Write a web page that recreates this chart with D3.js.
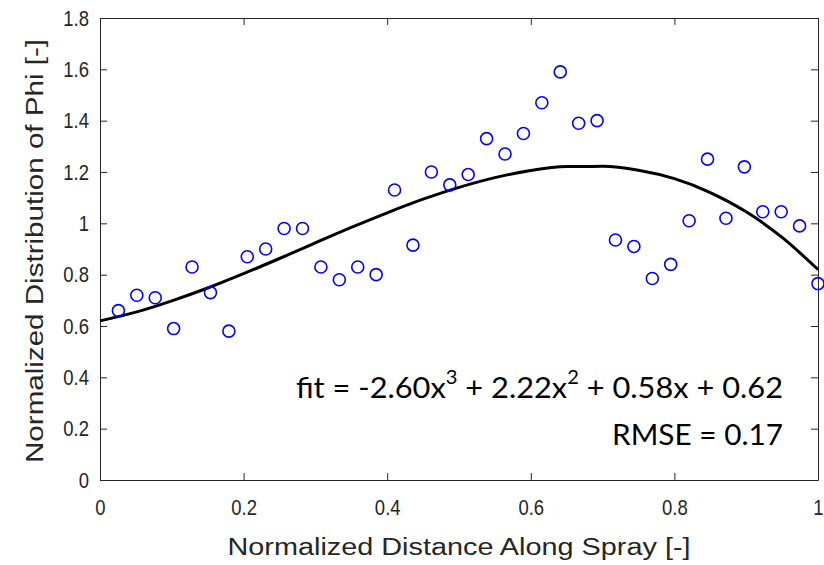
<!DOCTYPE html>
<html>
<head>
<meta charset="utf-8">
<script src="https://cdn.jsdelivr.net/npm/d3@7.9.0/dist/d3.min.js"></script>
<style>
  body { margin: 0; background: #fff; }
  svg { display: block; }
  .tick text { font-family: "Liberation Sans", Arial, sans-serif; }
</style>
</head>
<body>
<svg id="chart" width="824" height="565"></svg>
<script>
// measured points, x = k/39
const sampleX = d3.range(1, 40).map(k => k / 39);
const phi = [
  0.66, 0.72, 0.71, 0.59, 0.83, 0.73, 0.58, 0.87, 0.90, 0.98,
  0.98, 0.83, 0.78, 0.83, 0.80, 1.13, 0.915, 1.20, 1.15, 1.19,
  1.33, 1.27, 1.35, 1.47, 1.59, 1.39, 1.40, 0.935, 0.91, 0.785,
  0.84, 1.01, 1.25, 1.02, 1.22, 1.045, 1.045, 0.99, 0.765
];

// fit line
const fitX = [0, 0.05, 0.1, 0.15, 0.2, 0.25, 0.3, 0.35, 0.4, 0.45, 0.5,
              0.55, 0.6, 0.65, 0.7, 0.75, 0.8, 0.85, 0.9, 0.95, 1];
const fitY = [0.62, 0.654, 0.698, 0.748, 0.804, 0.863, 0.924, 0.984, 1.041, 1.094, 1.14,
              1.178, 1.206, 1.221, 1.222, 1.207, 1.174, 1.12, 1.045, 0.945, 0.82];

const xTicks = [0, 0.2, 0.4, 0.6, 0.8, 1];
const yTicks = [0, 0.2, 0.4, 0.6, 0.8, 1, 1.2, 1.4, 1.6, 1.8];

const svg = d3.select("#chart");
const margin = { left: 100, right: 6, top: 18, bottom: 85 };
const W = 824, H = 565;
const axisColor = "#262626";
const squeeze = 0.84; // MATLAB labels look narrow

const x = d3.scaleLinear().domain([0, 1]).range([margin.left, W - margin.right]);
const y = d3.scaleLinear().domain([0, 1.8]).range([H - margin.bottom, margin.top]);

const fmt = d => d === 0 || d === 1 ? String(d) : d3.format(".1f")(d);

// axes with inward ticks (box style)
function styleAxis(g) {
  g.select(".domain").attr("stroke", axisColor).attr("stroke-width", 1);
  g.selectAll(".tick line").attr("stroke", axisColor).attr("stroke-width", 1);
  g.selectAll(".tick text").attr("fill", axisColor).attr("font-size", 22);
}

svg.append("g")
  .attr("transform", `translate(0,${y(0)})`)
  .call(d3.axisBottom(x).tickValues(xTicks).tickFormat(fmt).tickSizeInner(-7).tickSizeOuter(0).tickPadding(19))
  .call(styleAxis)
  .selectAll(".tick text").attr("transform", `scale(${squeeze},1)`);

svg.append("g")
  .attr("transform", `translate(0,${y(1.8)})`)
  .call(d3.axisTop(x).tickValues(xTicks).tickFormat("").tickSizeInner(-7).tickSizeOuter(0))
  .call(styleAxis);

svg.append("g")
  .attr("transform", `translate(${x(0)},0)`)
  .call(d3.axisLeft(y).tickValues(yTicks).tickFormat(fmt).tickSizeInner(-7).tickSizeOuter(0).tickPadding(5))
  .call(styleAxis)
  .selectAll(".tick text")
  .attr("x", -11 / squeeze)
  .attr("transform", `scale(${squeeze},1)`);

svg.append("g")
  .attr("transform", `translate(${x(1)},0)`)
  .call(d3.axisRight(y).tickValues(yTicks).tickFormat("").tickSizeInner(-7).tickSizeOuter(0))
  .call(styleAxis);

// fit curve
svg.append("path")
  .datum(fitX.map((v, i) => [v, fitY[i]]))
  .attr("fill", "none")
  .attr("stroke", "#000")
  .attr("stroke-width", 3)
  .attr("d", d3.line().x(d => x(d[0])).y(d => y(d[1])).curve(d3.curveMonotoneX));

// data markers
svg.append("g")
  .selectAll("circle")
  .data(phi)
  .join("circle")
  .attr("cx", (d, i) => x(sampleX[i]))
  .attr("cy", d => y(d))
  .attr("r", 6)
  .attr("fill", "none")
  .attr("stroke", "#0000ff")
  .attr("stroke-width", 1.6);

// axis labels
svg.append("text")
  .attr("x", (x(0) + x(1)) / 2)
  .attr("y", 555)
  .attr("text-anchor", "middle")
  .attr("font-family", "Liberation Sans, Arial, sans-serif")
  .attr("font-size", 23)
  .attr("fill", axisColor)
  .attr("textLength", 463)
  .attr("lengthAdjust", "spacingAndGlyphs")
  .text("Normalized Distance Along Spray [-]");

svg.append("text")
  .attr("transform", `translate(43,${(y(0) + y(1.8)) / 2 + 2}) rotate(-90)`)
  .attr("text-anchor", "middle")
  .attr("font-family", "Liberation Sans, Arial, sans-serif")
  .attr("font-size", 23)
  .attr("fill", axisColor)
  .attr("textLength", 424)
  .attr("lengthAdjust", "spacingAndGlyphs")
  .text("Normalized Distribution of Phi [-]");

// fit annotation
const fitText = svg.append("text")
  .attr("x", 783)
  .attr("y", 398)
  .attr("text-anchor", "end")
  .attr("font-family", "Lato, 'Open Sans', sans-serif")
  .attr("font-size", 29)
  .attr("fill", "#000")
  .attr("textLength", 487)
  .attr("lengthAdjust", "spacingAndGlyphs");
fitText.append("tspan").text("fit = -2.60x");
fitText.append("tspan").attr("font-size", 19).attr("dy", -14).text("3");
fitText.append("tspan").attr("dy", 14).text(" + 2.22x");
fitText.append("tspan").attr("font-size", 19).attr("dy", -14).text("2");
fitText.append("tspan").attr("dy", 14).text(" + 0.58x + 0.62");

svg.append("text")
  .attr("x", 783)
  .attr("y", 445)
  .attr("text-anchor", "end")
  .attr("font-family", "Lato, 'Open Sans', sans-serif")
  .attr("font-size", 29)
  .attr("fill", "#000")
  .attr("textLength", 171)
  .attr("lengthAdjust", "spacingAndGlyphs")
  .text("RMSE = 0.17");
</script>
</body>
</html>
